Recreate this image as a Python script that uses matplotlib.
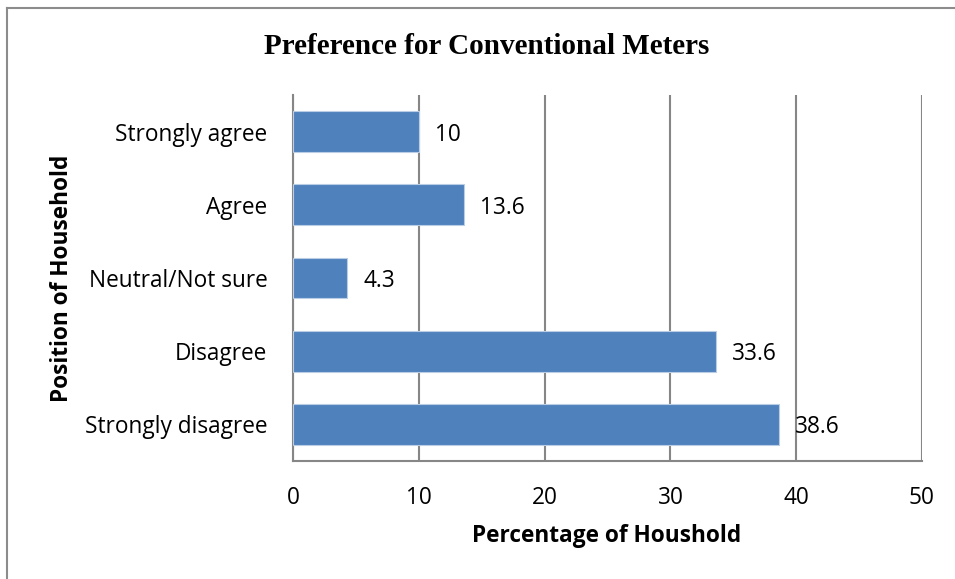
import matplotlib
matplotlib.use("Agg")
import matplotlib.pyplot as plt

categories = ["Strongly disagree", "Disagree", "Neutral/Not sure", "Agree", "Strongly agree"]
values = [38.6, 33.6, 4.3, 13.6, 10]
x_ticks = [0, 10, 20, 30, 40, 50]

plt.rcParams['font.family'] = ['Open Sans', 'DejaVu Sans']
FS = 16.3

fig = plt.figure(figsize=(9.55, 5.79), dpi=100)
fig.patch.set_facecolor("white")

# outer chart frame (top and left edges visible)
frame_col = "#8c8c8c"
fig.add_artist(plt.Line2D([7/955, 1.0], [1 - 8/579, 1 - 8/579], color=frame_col, lw=1.5,
                          transform=fig.transFigure))
fig.add_artist(plt.Line2D([7/955, 7/955], [0.0, 1 - 8/579], color=frame_col, lw=1.5,
                          transform=fig.transFigure))

ax = fig.add_axes([293/955, 1 - 461/579, (922 - 293)/955, (461 - 95)/579])

grid_col = "#868686"
y = list(range(len(categories)))
ax.barh(y, values, height=0.56, color="#4F81BD", edgecolor="#B9CDE5", linewidth=0.8, zorder=3)

for yi, v in zip(y, values):
    ax.text(v + 1.3, yi, f"{v:g}", va="center_baseline", ha="left", fontsize=FS,
            color="black", zorder=4)

ax.set_xlim(0, 50)
ax.set_ylim(-0.5, len(categories) - 0.5)
ax.set_xticks(x_ticks)
ax.set_xticklabels([str(t) for t in x_ticks], fontsize=FS)
ax.set_yticks(y)
ax.set_yticklabels(categories, fontsize=FS)
ax.tick_params(axis="both", length=0)
ax.tick_params(axis="x", pad=18)
ax.tick_params(axis="y", pad=18.5)

ax.xaxis.grid(True, color=grid_col, linewidth=1.5, zorder=0)
ax.set_axisbelow(True)
for side in ["top", "right"]:
    ax.spines[side].set_visible(False)
for side in ["left", "bottom"]:
    ax.spines[side].set_color(grid_col)
    ax.spines[side].set_linewidth(1.5)

fig.text(607/955, 1 - 536/579, "Percentage of Houshold", fontsize=FS, fontweight="bold",
         ha="center", va="center")
fig.text(62/955, 1 - 278/579, "Position of Household", fontsize=FS, fontweight="bold",
         ha="center", va="center", rotation=90)

fig.text(487/955, 1 - 47/579, "Preference for Conventional Meters",
         family="Liberation Serif", fontsize=21, fontweight="bold", ha="center", va="center")

fig.savefig("out.png", dpi=100, facecolor="white")
